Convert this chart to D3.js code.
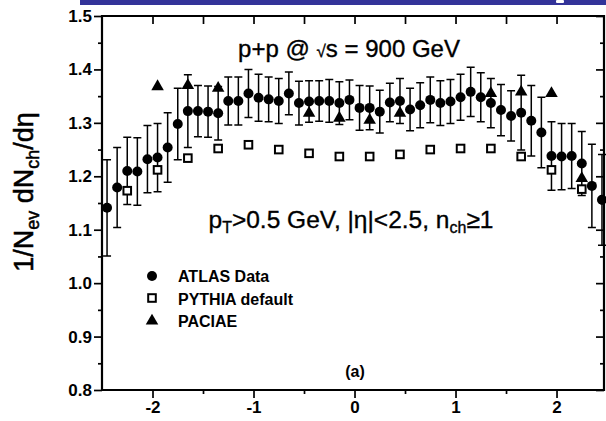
<html>
<head>
  <meta charset="utf8">
  <title>dNch/deta 900 GeV</title>
  <script src="https://cdn.jsdelivr.net/npm/d3@7"></script>
  <style>
    * { margin: 0; padding: 0; }
    body { background: #fff; }
    text { font-family: Arial, "Liberation Sans", Helvetica, sans-serif; }
  </style>
</head>
<body>
<script>
  var w = 606
  var h = 421

  // eta bin centres of the ATLAS points
  var eta = [-2.45, -2.35, -2.25, -2.15, -2.05, -1.95, -1.85, -1.75, -1.65, -1.55,
    -1.45, -1.35, -1.25, -1.15, -1.05, -0.95, -0.85, -0.75, -0.65, -0.55,
    -0.45, -0.35, -0.25, -0.15, -0.05, 0.05, 0.15, 0.25, 0.35, 0.45,
    0.55, 0.65, 0.75, 0.85, 0.95, 1.05, 1.15, 1.25, 1.35, 1.45,
    1.55, 1.65, 1.75, 1.85, 1.95, 2.05, 2.15, 2.25, 2.35, 2.45]
  var atlas = [1.141, 1.179, 1.210, 1.209, 1.232, 1.235, 1.254, 1.298, 1.322, 1.322,
    1.321, 1.318, 1.341, 1.341, 1.355, 1.347, 1.344, 1.341, 1.355, 1.337,
    1.340, 1.341, 1.341, 1.337, 1.343, 1.328, 1.328, 1.321, 1.338, 1.341,
    1.325, 1.333, 1.343, 1.337, 1.340, 1.348, 1.358, 1.348, 1.337, 1.324,
    1.313, 1.319, 1.304, 1.282, 1.238, 1.237, 1.238, 1.224, 1.182, 1.156]
  var atlasErr = [0.090, 0.075, 0.063, 0.063, 0.063, 0.064, 0.065, 0.067, 0.068, 0.048,
    0.048, 0.050, 0.045, 0.045, 0.045, 0.044, 0.042, 0.042, 0.040, 0.041,
    0.039, 0.038, 0.040, 0.040, 0.037, 0.042, 0.041, 0.040, 0.036, 0.042,
    0.040, 0.042, 0.043, 0.042, 0.041, 0.043, 0.046, 0.046, 0.046, 0.048,
    0.047, 0.070, 0.066, 0.066, 0.064, 0.062, 0.061, 0.060, 0.078, 0.085]

  var pythiaEta = [-2.25, -1.95, -1.65, -1.35, -1.05, -0.75, -0.45, -0.15,
    0.15, 0.45, 0.75, 1.05, 1.35, 1.65, 1.95, 2.25]
  var pythia = [1.173, 1.212, 1.234, 1.252, 1.259, 1.250, 1.243, 1.237,
    1.237, 1.241, 1.250, 1.252, 1.252, 1.237, 1.212, 1.176]

  var paciaeEta = [-1.95, -1.65, -1.35, -0.45, -0.15, 0.15, 0.45, 1.35, 1.65, 1.95, 2.25]
  var paciae = [1.368, 1.370, 1.365, 1.318, 1.309, 1.305, 1.318, 1.355, 1.358, 1.355, 1.196]

  var xTicks = [-2, -1, 0, 1, 2]
  var xMinor = [-1.5, -0.5, 0.5, 1.5]
  var yTicks = [0.8, 0.9, 1.0, 1.1, 1.2, 1.3, 1.4, 1.5]
  var yMinor = [0.85, 0.95, 1.05, 1.15, 1.25, 1.35, 1.45]
  var legendNames = ['ATLAS Data', 'PYTHIA default', 'PACIAE']

  var pLeft = 102, pRight = 604, pTop = 16, pBottom = 390

  var x = d3.scaleLinear().domain([-2.5, 2.47]).range([pLeft, pRight])
  var y = d3.scaleLinear().domain([0.8, 1.5]).range([pBottom, pTop])

  var svg = d3.select('body').append('svg').attr('width', w).attr('height', h)

  // blue banner strip at the top
  svg.append('rect').attr('x', 80).attr('y', 0).attr('width', w - 80).attr('height', 5).attr('fill', '#333399')
  svg.append('rect').attr('x', 556).attr('y', 0).attr('width', 8).attr('height', 3).attr('rx', 1).attr('fill', '#fff')

  function styleAxis(g) {
    g.select('.domain').remove()
    g.selectAll('.tick line').attr('stroke', '#000').attr('stroke-width', 1.7)
    g.selectAll('.tick text').attr('font-size', '17px').attr('font-weight', 'bold').attr('fill', '#000')
  }

  // left axis
  svg.append('g').attr('transform', 'translate(' + pLeft + ',0)')
    .call(d3.axisLeft(y).tickValues(yTicks).tickSize(8).tickPadding(2).tickFormat(d3.format('.1f')))
    .call(styleAxis)
  svg.append('g').attr('transform', 'translate(' + pLeft + ',0)')
    .call(d3.axisLeft(y).tickValues(yMinor).tickSize(4).tickFormat(''))
    .call(styleAxis)
  // right axis (ticks inward)
  svg.append('g').attr('transform', 'translate(' + pRight + ',0)')
    .call(d3.axisLeft(y).tickValues(yTicks).tickSize(8).tickFormat(''))
    .call(styleAxis)
  svg.append('g').attr('transform', 'translate(' + pRight + ',0)')
    .call(d3.axisLeft(y).tickValues(yMinor).tickSize(4).tickFormat(''))
    .call(styleAxis)
  // bottom axis
  svg.append('g').attr('transform', 'translate(0,' + pBottom + ')')
    .call(d3.axisBottom(x).tickValues(xTicks).tickSize(8).tickPadding(3).tickFormat(d => String(d)))
    .call(styleAxis)
  svg.append('g').attr('transform', 'translate(0,' + pBottom + ')')
    .call(d3.axisBottom(x).tickValues(xMinor).tickSize(4).tickFormat(''))
    .call(styleAxis)
  // top axis (ticks inward)
  svg.append('g').attr('transform', 'translate(0,' + pTop + ')')
    .call(d3.axisBottom(x).tickValues(xTicks.concat(xMinor)).tickSize(8).tickFormat(''))
    .call(styleAxis)

  // frame
  svg.append('path')
    .attr('d', 'M' + pLeft + ',' + pTop + 'H' + pRight + 'V' + pBottom + 'H' + pLeft + 'Z')
    .attr('fill', 'none').attr('stroke', '#000').attr('stroke-width', 2.2)

  // error bars
  var atlasData = eta.map((e, i) => ({ eta: e, v: atlas[i], err: atlasErr[i] }))
  var eb = svg.append('g').attr('stroke', '#000').attr('stroke-width', 1.5).attr('fill', 'none')
  eb.selectAll('path')
    .data(atlasData)
    .enter()
    .append('path')
    .attr('d', d => {
      var cx = x(d.eta), y1 = y(d.v + d.err), y2 = y(d.v - d.err)
      return 'M' + (cx - 4) + ',' + y1 + 'H' + (cx + 4) + 'M' + cx + ',' + y1 + 'V' + y2 +
        'M' + (cx - 4) + ',' + y2 + 'H' + (cx + 4)
    })

  svg.append('g').selectAll('circle')
    .data(atlasData)
    .enter()
    .append('circle')
    .attr('cx', d => x(d.eta))
    .attr('cy', d => y(d.v))
    .attr('r', 5)
    .attr('fill', '#000')

  svg.append('g').selectAll('rect')
    .data(pythiaEta)
    .enter()
    .append('rect')
    .attr('x', (d) => x(d) - 3.8)
    .attr('y', (d, i) => y(pythia[i]) - 3.8)
    .attr('width', 7.6)
    .attr('height', 7.6)
    .attr('fill', '#fff')
    .attr('stroke', '#000')
    .attr('stroke-width', 2)

  var tri = d3.symbol().type(d3.symbolTriangle).size(68)
  svg.append('g').selectAll('path')
    .data(paciaeEta)
    .enter()
    .append('path')
    .attr('d', tri)
    .attr('transform', (d, i) => 'translate(' + x(d) + ',' + y(paciae[i]) + ')')
    .attr('fill', '#000')

  // legend
  var lg = svg.append('g').attr('transform', 'translate(152,276)')
  lg.append('circle').attr('cx', 0).attr('cy', 0).attr('r', 5).attr('fill', '#000')
  lg.append('rect').attr('x', -3.8).attr('y', 22 - 3.8).attr('width', 7.6).attr('height', 7.6)
    .attr('fill', '#fff').attr('stroke', '#000').attr('stroke-width', 2)
  lg.append('path').attr('d', tri).attr('transform', 'translate(0,45)').attr('fill', '#000')
  lg.selectAll('text')
    .data(legendNames)
    .enter()
    .append('text')
    .attr('x', 26)
    .attr('y', (d, i) => i * 22.5 + 6)
    .attr('font-size', '16px')
    .attr('font-weight', 'bold')
    .text(d => d)

  // annotations
  var t1 = svg.append('text').attr('x', 349).attr('y', 57).attr('text-anchor', 'middle')
    .attr('font-size', '24px').attr('stroke', '#000').attr('stroke-width', 0.35)
  t1.append('tspan').text('p+p @ ')
  t1.append('tspan').attr('font-size', '17px').text('\u221A')
  t1.append('tspan').text('s = 900 GeV')

  var t2 = svg.append('text').attr('x', 351).attr('y', 228).attr('text-anchor', 'middle')
    .attr('font-size', '24.5px').attr('stroke', '#000').attr('stroke-width', 0.35)
  t2.append('tspan').text('p')
  t2.append('tspan').attr('font-size', '16px').attr('dy', 5).text('T')
  t2.append('tspan').attr('dy', -5).text('>0.5 GeV, |\u03B7|<2.5, n')
  t2.append('tspan').attr('font-size', '16px').attr('dy', 5).text('ch')
  t2.append('tspan').attr('dy', -5).text('\u2265')
  t2.append('tspan').text('1')

  svg.append('text').attr('x', 355).attr('y', 377).attr('text-anchor', 'middle')
    .attr('font-size', '16px').attr('font-weight', 'bold').text('(a)')

  var yl = svg.append('text').attr('transform', 'translate(33,192) rotate(-90)')
    .attr('text-anchor', 'middle').attr('font-size', '27px')
    .attr('stroke', '#000').attr('stroke-width', 0.5)
  yl.append('tspan').text('1/N')
  yl.append('tspan').attr('font-size', '18px').attr('dy', 6).text('ev')
  yl.append('tspan').attr('dy', -6).text(' dN')
  yl.append('tspan').attr('font-size', '18px').attr('dy', 6).text('ch')
  yl.append('tspan').attr('dy', -6).text('/d\u03B7')
</script>
</body>
</html>
